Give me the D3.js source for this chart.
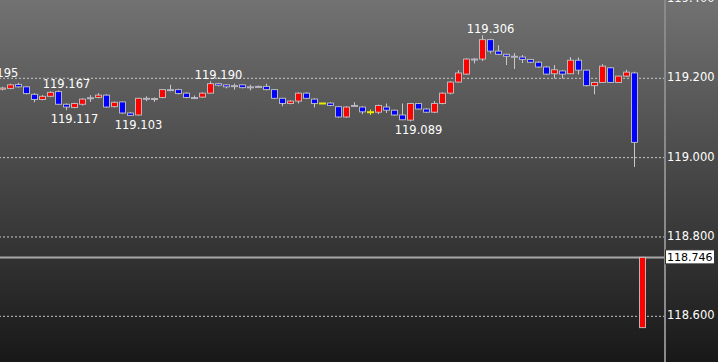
<!DOCTYPE html>
<html>
<head>
<meta charset="utf-8">
<script src="https://cdn.jsdelivr.net/npm/d3@7"></script>
<style>
  body { margin: 0; background: #000; }
  svg { display: block; }
</style>
</head>
<body>
<div id="chart"></div>
<script>
var width = 718;
var height = 362;

// candle index runs from -2 (off screen) to 80
var firstIndex = -2;

var opens = [
  119.180, 119.179,
  119.170, 119.172, 119.182, 119.176, 119.157, 119.144, 119.152, 119.164, 119.132, 119.124,
  119.132, 119.1485, 119.149, 119.155, 119.126, 119.138, 119.110, 119.105, 119.147, 119.146,
  119.149, 119.169, 119.169, 119.160, 119.149, 119.150, 119.160, 119.184, 119.181, 119.179,
  119.181, 119.176, 119.177, 119.177, 119.169, 119.147, 119.134, 119.140, 119.160, 119.145,
  119.134, 119.135, 119.126, 119.100, 119.129, 119.125, 119.112, 119.112, 119.125, 119.117,
  119.105, 119.092, 119.134, 119.120, 119.112, 119.134, 119.160, 119.188, 119.208, 119.246,
  119.246, 119.295, 119.266, 119.258, 119.253, 119.251, 119.245, 119.238, 119.226, 119.209,
  119.216, 119.209, 119.243, 119.218, 119.179, 119.187, 119.224, 119.187, 119.203, 119.211,
  118.569
];
var closes = [
  119.187, 119.174,
  119.173, 119.181, 119.176, 119.159, 119.144, 119.152, 119.162, 119.132, 119.125, 119.134,
  119.145, 119.148, 119.155, 119.125, 119.137, 119.110, 119.104, 119.147, 119.1465, 119.1465,
  119.169, 119.1685, 119.159, 119.149, 119.1485, 119.160, 119.184, 119.180, 119.176, 119.1785,
  119.174, 119.1755, 119.1765, 119.169, 119.147, 119.134, 119.140, 119.160, 119.147, 119.134,
  119.134, 119.129, 119.100, 119.125, 119.1285, 119.113, 119.112, 119.129, 119.117, 119.105,
  119.093, 119.134, 119.120, 119.112, 119.134, 119.160, 119.188, 119.211, 119.246, 119.2455,
  119.295, 119.266, 119.258, 119.253, 119.2525, 119.245, 119.238, 119.226, 119.208, 119.219,
  119.208, 119.243, 119.218, 119.179, 119.187, 119.228, 119.187, 119.203, 119.213, 119.036,
  118.746
];
var highs = [
  119.195, 119.181,
  119.176, 119.184, 119.186, 119.177, 119.160, 119.155, 119.165, 119.167, 119.134, 119.136,
  119.147, 119.155, 119.160, 119.157, 119.139, 119.139, 119.112, 119.148, 119.152, 119.149,
  119.170, 119.181, 119.171, 119.162, 119.154, 119.162, 119.190, 119.186, 119.182, 119.184,
  119.182, 119.181, 119.179, 119.184, 119.170, 119.148, 119.142, 119.162, 119.162, 119.147,
  119.134, 119.137, 119.127, 119.127, 119.137, 119.127, 119.119, 119.131, 119.134, 119.118,
  119.134, 119.135, 119.135, 119.122, 119.140, 119.162, 119.190, 119.218, 119.248, 119.248,
  119.306, 119.297, 119.281, 119.259, 119.261, 119.256, 119.246, 119.240, 119.228, 119.231,
  119.218, 119.251, 119.250, 119.219, 119.189, 119.233, 119.226, 119.204, 119.219, 119.214,
  118.747
];
var lows = [
  119.178, 119.172,
  119.167, 119.170, 119.174, 119.157, 119.137, 119.142, 119.150, 119.131, 119.117, 119.122,
  119.129, 119.138, 119.147, 119.123, 119.124, 119.108, 119.103, 119.104, 119.140, 119.138,
  119.147, 119.165, 119.157, 119.147, 119.145, 119.148, 119.160, 119.177, 119.172, 119.169,
  119.172, 119.167, 119.176, 119.167, 119.145, 119.127, 119.132, 119.134, 119.145, 119.124,
  119.134, 119.127, 119.098, 119.098, 119.127, 119.107, 119.105, 119.107, 119.110, 119.103,
  119.092, 119.089, 119.119, 119.110, 119.110, 119.132, 119.157, 119.187, 119.206, 119.235,
  119.241, 119.260, 119.256, 119.231, 119.221, 119.236, 119.236, 119.224, 119.206, 119.197,
  119.197, 119.208, 119.207, 119.177, 119.157, 119.186, 119.186, 119.186, 119.201, 118.974,
  118.569
];

// high / low markers printed on the chart
var markIndex = [-2, 7, 8, 16, 26, 51, 60];
var markValue = [119.195, 119.167, 119.117, 119.103, 119.190, 119.089, 119.306];
var markSide  = ["high", "high", "low", "low", "high", "low", "high"];

var tickValues = [118.6, 118.8, 119.0, 119.2, 119.4];
var lastPrice = 118.746;

var candles = opens.map(function(o, k) {
  return { i: k + firstIndex, o: o, c: closes[k], h: highs[k], l: lows[k] };
});

var axisX = 665;
var xScale = d3.scaleLinear().domain([0, 80]).range([2.5, 642.5]);
var yScale = d3.scaleLinear().domain([118.6, 119.2]).range([315.3, 77.3]);
var fmt = d3.format(".3f");

var svg = d3.select("#chart")
  .append("svg")
  .attr("width", width)
  .attr("height", height)
  .style("font-family", "'DejaVu Sans', Verdana, sans-serif");

// background gradient
var grad = svg.append("defs").append("linearGradient")
  .attr("id", "bg")
  .attr("x1", 0).attr("y1", 0).attr("x2", 0).attr("y2", 1);
grad.append("stop").attr("offset", "0%").attr("stop-color", "#727272");
grad.append("stop").attr("offset", "100%").attr("stop-color", "#181818");

svg.append("rect")
  .attr("width", width)
  .attr("height", height)
  .attr("fill", "url(#bg)");

// dashed grid lines
var grid = svg.append("g")
  .attr("transform", "translate(" + axisX + ",0)")
  .call(d3.axisLeft(yScale).tickValues(tickValues).tickSize(axisX).tickFormat(""));
grid.select(".domain").remove();
grid.selectAll(".tick line")
  .attr("stroke", "#c8c8c8")
  .attr("stroke-dasharray", "2,2")
  .attr("transform", "translate(0,0.5)");

// current price line
svg.append("line")
  .attr("x1", 0)
  .attr("x2", axisX)
  .attr("y1", yScale(lastPrice))
  .attr("y2", yScale(lastPrice))
  .attr("stroke", "#a8a8a8")
  .attr("stroke-width", 2);

var plot = svg.append("g");

// wicks
plot.selectAll("line.wick")
  .data(candles)
  .enter()
  .append("line")
  .attr("class", "wick")
  .attr("x1", function(d) { return xScale(d.i); })
  .attr("x2", function(d) { return xScale(d.i); })
  .attr("y1", function(d) { return yScale(d.h); })
  .attr("y2", function(d) { return yScale(d.l); })
  .attr("stroke", function(d) { return d.o == d.c ? "#e8e800" : "#c8c8c8"; })
  .attr("stroke-width", 1);

// bodies
plot.selectAll("rect.body")
  .data(candles.filter(function(d) { return d.o != d.c; }))
  .enter()
  .append("rect")
  .attr("class", "body")
  .attr("x", function(d) { return xScale(d.i) - 3; })
  .attr("width", 6)
  .attr("y", function(d) { return yScale(Math.max(d.o, d.c)); })
  .attr("height", function(d) { return Math.max(1, Math.abs(yScale(d.o) - yScale(d.c))); })
  .attr("fill", function(d) { return d.c > d.o ? "#ff0000" : "#0000ff"; })
  .attr("stroke", "#c4c4c4")
  .attr("stroke-opacity", 0.9)
  .attr("stroke-width", 1);

// flat candles (open == close) drawn as yellow dashes
plot.selectAll("line.flat")
  .data(candles.filter(function(d) { return d.o == d.c; }))
  .enter()
  .append("line")
  .attr("class", "flat")
  .attr("x1", function(d) { return xScale(d.i) - 3.5; })
  .attr("x2", function(d) { return xScale(d.i) + 3.5; })
  .attr("y1", function(d) { return yScale(d.o); })
  .attr("y2", function(d) { return yScale(d.o); })
  .attr("stroke", "#e8e800")
  .attr("stroke-width", 2);

// high/low labels
plot.selectAll("text.mark")
  .data(markIndex)
  .enter()
  .append("text")
  .attr("class", "mark")
  .attr("x", function(d) { return xScale(d) + 8; })
  .attr("y", function(d, k) {
    var y = yScale(markValue[k]);
    return markSide[k] == "high" ? y - 2 : y + 13;
  })
  .attr("text-anchor", "middle")
  .attr("fill", "#ffffff")
  .style("font-size", "11.5px")
  .text(function(d, k) { return fmt(markValue[k]); });

// price axis on the right
svg.append("rect")
  .attr("x", axisX - 1)
  .attr("y", 0)
  .attr("width", 2)
  .attr("height", height)
  .attr("fill", "#8a8a8a");

var yAxis = svg.append("g")
  .attr("transform", "translate(" + (axisX + 1) + ",0)")
  .call(d3.axisRight(yScale).tickValues(tickValues).tickSize(0).tickPadding(1).tickFormat(fmt));
yAxis.select(".domain").remove();
yAxis.selectAll("text")
  .attr("fill", "#ffffff")
  .style("font-size", "11.5px")
  .style("font-family", "'DejaVu Sans', Verdana, sans-serif");

// last price tag
var tagY = yScale(lastPrice);
svg.append("rect")
  .attr("x", axisX + 0.5)
  .attr("y", tagY - 7.5)
  .attr("width", 49)
  .attr("height", 14)
  .attr("fill", "#ffffff")
  .attr("stroke", "#333333")
  .attr("stroke-width", 1);
svg.append("text")
  .attr("x", axisX + 2)
  .attr("y", tagY)
  .attr("dy", "0.35em")
  .attr("fill", "#000000")
  .style("font-size", "11px")
  .text(fmt(lastPrice));
</script>
</body>
</html>
